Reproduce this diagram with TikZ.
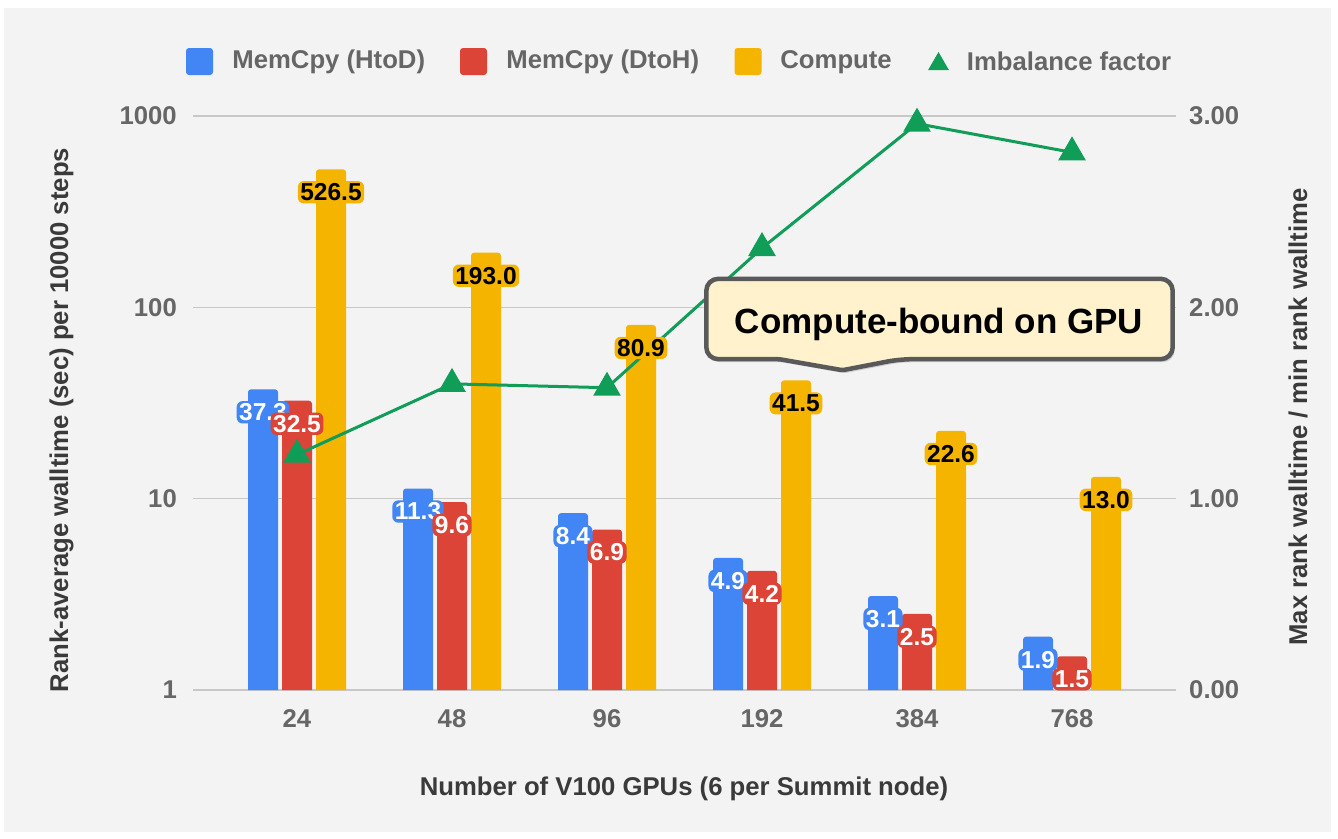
\documentclass[tikz,border=0pt]{standalone}
\usepackage{fontspec}
\setmainfont{Liberation Sans}
\usetikzlibrary{shapes.geometric, arrows.meta, positioning, calc, shadows}

\definecolor{gblue}{HTML}{4285F4}
\definecolor{gred}{HTML}{DB4437}
\definecolor{gyellow}{HTML}{F4B400}
\definecolor{ggreen}{HTML}{0F9D58}
\definecolor{panel}{HTML}{F3F3F3}
\definecolor{gridc}{HTML}{C8C8C8}
\definecolor{ticktext}{HTML}{666666}
\definecolor{titletext}{HTML}{3A3A3A}
\definecolor{notefill}{HTML}{FFF2CC}
\definecolor{noteedge}{HTML}{595959}

\begin{document}
\begin{tikzpicture}[x=1pt, y=-1pt,
        gridline/.style={draw=gridc, line width=1.6pt},
        tick/.style={inner sep=0pt, text=ticktext, font=\fontsize{25.7}{26}\selectfont\bfseries},
        axtitle/.style={inner sep=0pt, text=titletext, font=\fontsize{25.7}{26}\selectfont\bfseries},
        legkey/.style={fill=#1, rounded corners=3pt, minimum size=27pt, inner sep=0pt},
        legtext/.style={inner sep=0pt, text=ticktext, text height=18.4pt, text depth=5pt, font=\fontsize{25.7}{26}\selectfont\bfseries},
        vlabel/.style={fill=#1, rounded corners=6pt, inner sep=2.5pt, font=\fontsize{24.5}{25}\selectfont\bfseries},
        imbmark/.style={regular polygon, regular polygon sides=3, fill=ggreen, minimum size=32pt, inner sep=0pt},
        imbline/.style={draw=ggreen, line width=3pt, line join=round},
        notebox/.style={draw=noteedge, fill=notefill, line width=4.5pt, drop shadow={shadow xshift=2pt, shadow yshift=-3pt, opacity=0.3}},
        notetext/.style={inner sep=0pt, font=\fontsize{35}{35}\selectfont\bfseries}]
    \useasboundingbox (0,0) rectangle (1338,838);
    \fill[white] (0,0) rectangle (1338,838);
    \fill[panel] (4,8) rectangle (1331,832);

    \foreach \i/\lab in {0/1, 1/10, 2/100, 3/1000} {
        \pgfmathsetmacro{\yy}{690-191.33*\i}
        \coordinate (gl\i) at (193,\yy);
        \coordinate (gr\i) at (1176,\yy);
        \draw[gridline] (gl\i) -- (gr\i);
        \node[tick, anchor=east] (lt\i) at (177,\yy) {\lab};
        \node[tick, anchor=west] (rt\i) at (1189,\yy) {\i.00};
    }

    \foreach \c/\h/\d/\k [count=\n] in {297/37.3/32.5/526.5, 452/11.3/9.6/193.0, 607/8.4/6.9/80.9, 762/4.9/4.2/41.5, 917/3.1/2.5/22.6, 1072/1.9/1.5/13.0} {
        \pgfmathsetmacro{\yh}{690-191.33*ln(\h)/ln(10)}
        \pgfmathsetmacro{\yd}{690-191.33*ln(\d)/ln(10)}
        \pgfmathsetmacro{\yk}{690-191.33*ln(\k)/ln(10)}
        \fill[gblue] (\c-49,690) [rounded corners=3pt] -- (\c-49,\yh) -- (\c-19,\yh) [sharp corners] -- (\c-19,690) -- cycle;
        \fill[gred] (\c-15,690) [rounded corners=3pt] -- (\c-15,\yd) -- (\c+15,\yd) [sharp corners] -- (\c+15,690) -- cycle;
        \fill[gyellow] (\c+19,690) [rounded corners=3pt] -- (\c+19,\yk) -- (\c+49,\yk) [sharp corners] -- (\c+49,690) -- cycle;
    }
    \foreach \c/\g [count=\n] in {297/24, 452/48, 607/96, 762/192, 917/384, 1072/768}
        \node[tick, anchor=north] (xt\n) at (\c,709) {\g};

    \foreach \c/\v [count=\n] in {297/1.23, 452/1.60, 607/1.58, 762/2.31, 917/2.96, 1072/2.81}
        \coordinate (p\n) at (\c,{690-191.33*\v});
    \draw[imbline] (p1) -- (p2) -- (p3) -- (p4) -- (p5) -- (p6);
    \foreach \n in {1,...,6} \node[imbmark] (im\n) at (p\n) {};

    \foreach \c/\h/\d/\k [count=\n] in {297/37.3/32.5/526.5, 452/11.3/9.6/193.0, 607/8.4/6.9/80.9, 762/4.9/4.2/41.5, 917/3.1/2.5/22.6, 1072/1.9/1.5/13.0} {
        \pgfmathsetmacro{\yh}{690-191.33*ln(\h)/ln(10)}
        \pgfmathsetmacro{\yd}{690-191.33*ln(\d)/ln(10)}
        \pgfmathsetmacro{\yk}{690-191.33*ln(\k)/ln(10)}
        \node[vlabel=gblue, text=white] (lh\n) at (\c-34,\yh+23) {\h};
        \node[vlabel=gred, text=white] (ld\n) at (\c,\yd+23) {\d};
        \node[vlabel=gyellow, text=black] (lk\n) at (\c+34,\yk+23) {\k};
    }

    \node[legkey=gblue] (kh) at (199.5,61.5) {};
    \node[legtext, right=19pt of kh] (th) {MemCpy (HtoD)};
    \node[legkey=gred] (kd) at (473.5,61.5) {};
    \node[legtext, right=19pt of kd] (td) {MemCpy (DtoH)};
    \node[legkey=gyellow] (kc) at (748,61.5) {};
    \node[legtext, right=18.5pt of kc] (tc) {Compute};
    \node[imbmark, minimum size=24pt] (ki) at (938.5,64) {};
    \node[legtext, right=21pt of ki] (ti) {Imbalance factor};

    \node[axtitle, rotate=90, anchor=base] (ytitle) at (68,420) {Rank-average walltime (sec) per 10000 steps};
    \node[axtitle, rotate=90, anchor=base] (rtitle) at (1307,417) {Max rank walltime / min rank walltime};
    \node[axtitle, anchor=base] (xtitle) at (684,795) {Number of V100 GPUs (6 per Summit node)};

    \path node[minimum width=466pt, minimum height=80pt, inner sep=0pt] (note) at (939.5,319) {};
    \coordinate (tip) at ([shift={(-97pt,-11pt)}]note.south);
    \draw[notebox] ([xshift=-160pt]note.south) [rounded corners=12pt] -- (note.south west) -- (note.north west) -- (note.north east) -- (note.south east) -- ([xshift=-40pt]note.south) [rounded corners=2pt] -- (tip) -- cycle;
    \node[notetext, anchor=base] (notelabel) at (939,333) {Compute-bound on GPU};
\end{tikzpicture}
\end{document}
